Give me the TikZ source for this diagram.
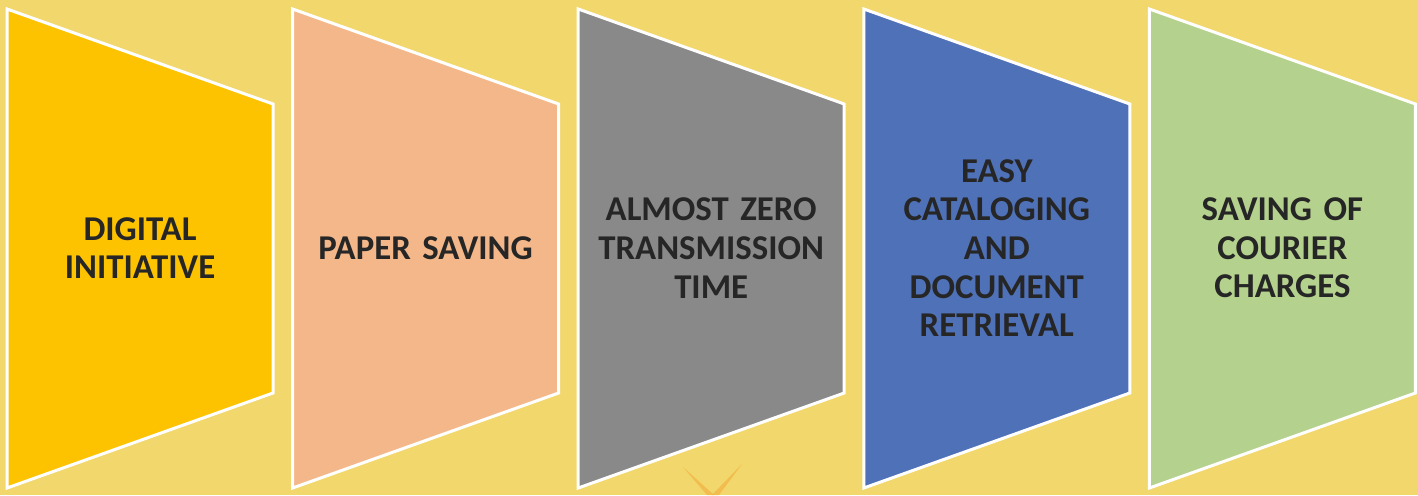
\documentclass[tikz,border=0pt]{standalone}
\usepackage{fontspec}
\setmainfont{Carlito}
\usetikzlibrary{positioning}
\definecolor{bgyellow}{HTML}{F1D76C}
\definecolor{staronge}{HTML}{F3B648}
\definecolor{txtgray}{HTML}{262626}
\definecolor{stageA}{HTML}{FEC300}
\definecolor{stageB}{HTML}{F4B78A}
\definecolor{stageC}{HTML}{898989}
\definecolor{stageD}{HTML}{4F71B8}
\definecolor{stageE}{HTML}{B4D28D}
\tikzset{
  stage/.style={draw=white, line width=3pt, line join=miter},
  stagetext/.style={font=\fontsize{34.8}{38.6}\selectfont\bfseries, text=txtgray,
    align=center, text width=258pt, inner sep=0pt}
}
\begin{document}
\begin{tikzpicture}[x=1pt,y=-1pt]
  % background
  \fill[bgyellow] (0,0) rectangle (1418,495);
  \fill[staronge, opacity=0.8] (683,467) -- (714,495) -- (707,495) -- cycle;
  \fill[staronge, opacity=0.8] (742,464) -- (719,495) -- (712,495) -- cycle;
  % stages
  \foreach \i/\col/\txt in {0/stageA/{DIGITAL\\INITIATIVE},
                            1/stageB/{PAPER SAVING},
                            2/stageC/{ALMOST ZERO\\TRANSMISSION\\TIME},
                            3/stageD/{EASY\\CATALOGING\\AND\\DOCUMENT\\RETRIEVAL},
                            4/stageE/{SAVING OF\\COURIER\\CHARGES}}{
    \pgfmathsetmacro{\xl}{7+285.6*\i}
    \filldraw[fill=\col, stage] (\xl,9) -- ++(266,95) -- ++(0,289) -- ++(-266,95) -- cycle;
    \node[stagetext] (s\i) at (\xl+133,248) {\txt};
  }
\end{tikzpicture}
\end{document}
